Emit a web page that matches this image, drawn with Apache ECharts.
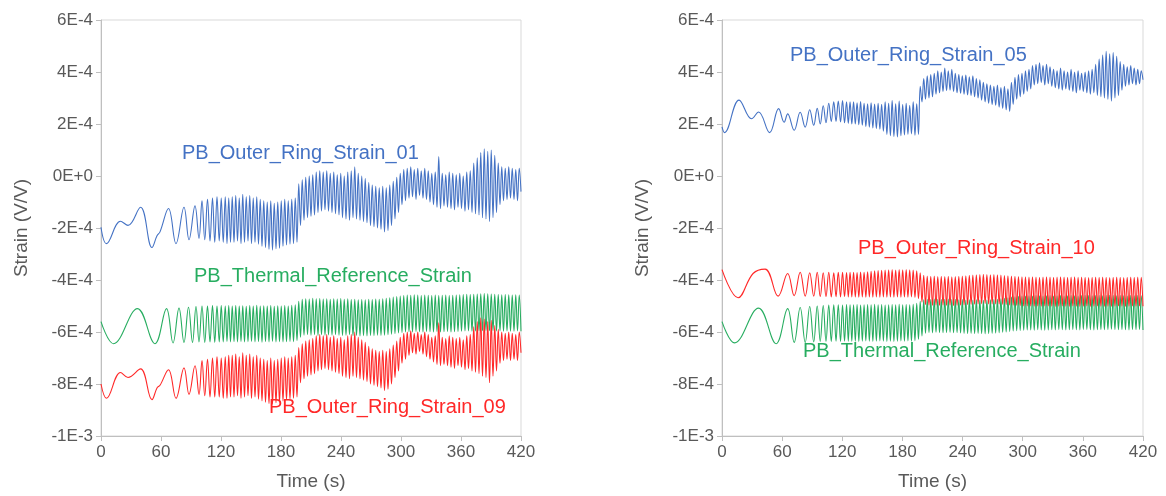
<!DOCTYPE html>
<html>
<head>
<meta charset="utf-8">
<script src="https://cdn.jsdelivr.net/npm/echarts@6/dist/echarts.min.js"></script>
<style>
  html, body { margin: 0; padding: 0; background: #ffffff; }
  #chart { width: 1166px; height: 496px; }
</style>
</head>
<body>
<div id="chart"></div>
<script>
// Strain values are given in units of 1E-4 V/V.
// Each trace = a lead-in section with its own time stamps (s)
// followed by a dense section sampled every DENSE_STEP seconds from DENSE_START.
const DENSE_START = 131.25;
const DENSE_STEP = 1.75;

const xTicks = [0, 60, 120, 180, 240, 300, 360, 420];
const yTicksE4 = [6, 4, 2, 0, -2, -4, -6, -8, -10];

// shared sweep timing (extrema of the excitation) for the thermal reference traces
const sweepTimes = [0, 12.5, 36.5, 54, 65.5, 72, 78, 83, 87.5, 91.5, 95, 98, 101, 103.75, 106.5, 109, 111.5, 113.75, 116, 118.25, 120.25, 122.25, 124.25, 126, 127.75, 129.5];

// ---------- left panel ----------
const ring01_09LeadT = [0, 5.5, 19.5, 27, 39.5, 51, 56, 59, 67.5, 75, 83, 88, 94, 98, 101, 103.75, 106.5, 109, 111.5, 113.75, 116, 118.25, 120.25, 122.25, 124.25, 126, 127.75, 129.5];

const ring01Lead = [-1.97, -2.6, -1.74, -1.9, -1.2, -2.75, -2.3, -2.15, -1.25, -2.6, -1.2, -2.45, -1.15, -2.4, -0.95, -2.45, -0.9, -2.5, -0.85, -2.55, -0.8, -2.5, -0.85, -2.55, -0.8, -2.6, -0.85, -2.55];
const ring01Dense = [
  -0.8, -2.55, -0.75, -2.5, -0.85, -2.6, -0.7, -2.55, -0.8, -2.5,
  -0.75, -2.6, -0.85, -2.55, -0.8, -2.62, -0.9, -2.7, -0.95, -2.75,
  -1.0, -2.82, -0.95, -2.85, -1.05, -2.8, -1.0, -2.78, -0.95, -2.7,
  -0.9, -2.65, -0.95, -2.62, -0.9, -2.6, -0.85, -2.55, -0.3, -1.9,
  -0.15, -1.7, -0.05, -1.6, 0.0, -1.55, 0.05, -1.5, 0.15, -1.4,
  0.2, -1.35, 0.15, -1.3, 0.2, -1.35, 0.1, -1.4, 0.15, -1.45,
  0.05, -1.5, 0.1, -1.6, 0.0, -1.65, 0.15, -1.7, 0.2, -1.6,
  0.35, -1.65, 0.1, -1.7, 0.0, -1.75, -0.1, -1.8, -0.25, -1.9,
  -0.35, -1.95, -0.4, -2.0, -0.45, -2.05, -0.4, -2.15, -0.45, -2.1,
  -0.35, -1.9, -0.2, -1.65, -0.05, -1.4, 0.1, -1.1, 0.25, -0.95,
  0.3, -0.85, 0.35, -0.8, 0.25, -0.9, 0.3, -0.75, 0.2, -0.85,
  0.3, -0.9, 0.2, -1.0, 0.1, -1.1, 0.15, -1.2, 0.75, -1.25,
  0.1, -1.15, 0.05, -1.2, 0.15, -1.25, 0.1, -1.3, 0.05, -1.2,
  0.1, -1.25, 0.0, -1.35, 0.15, -1.3, 0.2, -1.4, 0.5, -1.45,
  0.7, -1.5, 0.9, -1.6, 1.05, -1.65, 0.95, -1.75, 1.0, -1.6,
  0.8, -1.4, 0.5, -1.1, 0.35, -0.95, 0.3, -0.9, 0.35, -0.85,
  0.3, -0.9, 0.25, -0.95, 0.3, -0.6
];

const thermalLeftLead = [-5.6, -6.45, -5.1, -6.45, -5.1, -6.42, -5.08, -6.4, -5.05, -6.4, -5.02, -6.38, -5.0, -6.4, -5.0, -6.38, -4.98, -6.4, -5.0, -6.38, -4.98, -6.38, -5.0, -6.36, -4.98, -6.38];
const thermalLeftDense = [
  -5.0, -6.37, -4.98, -6.38, -5.0, -6.36, -4.99, -6.38, -5.01, -6.37,
  -4.98, -6.36, -5.0, -6.38, -4.97, -6.37, -5.0, -6.39, -4.99, -6.37,
  -5.0, -6.38, -4.98, -6.36, -5.01, -6.38, -4.99, -6.37, -5.0, -6.38,
  -4.98, -6.37, -5.0, -6.36, -4.97, -6.37, -4.95, -6.33, -4.82, -6.2,
  -4.74, -6.12, -4.72, -6.1, -4.73, -6.12, -4.7, -6.1, -4.72, -6.13,
  -4.71, -6.1, -4.73, -6.12, -4.72, -6.11, -4.74, -6.12, -4.72, -6.1,
  -4.73, -6.12, -4.71, -6.13, -4.74, -6.12, -4.72, -6.1, -4.75, -6.14,
  -4.74, -6.13, -4.76, -6.15, -4.75, -6.14, -4.76, -6.15, -4.74, -6.13,
  -4.75, -6.14, -4.73, -6.12, -4.74, -6.13, -4.72, -6.12, -4.7, -6.1,
  -4.68, -6.08, -4.66, -6.06, -4.64, -6.04, -4.62, -6.02, -4.6, -6.0,
  -4.58, -5.99, -4.59, -6.0, -4.57, -5.98, -4.58, -5.99, -4.6, -6.0,
  -4.58, -5.98, -4.59, -5.99, -4.6, -6.0, -4.58, -5.98, -4.6, -6.0,
  -4.59, -5.99, -4.58, -5.98, -4.6, -6.0, -4.59, -5.99, -4.58, -5.98,
  -4.57, -5.97, -4.56, -5.96, -4.55, -5.96, -4.56, -5.97, -4.55, -5.96,
  -4.54, -5.95, -4.53, -5.95, -4.52, -5.94, -4.53, -5.95, -4.54, -5.95,
  -4.55, -5.96, -4.56, -5.96, -4.57, -5.97, -4.56, -5.96, -4.57, -5.97,
  -4.58, -5.97, -4.57, -5.96, -4.58, -5.97
];

const ring09Lead = [-8.0, -8.55, -7.56, -7.75, -7.42, -8.6, -8.15, -8.05, -7.45, -8.55, -7.38, -8.4, -7.3, -8.4, -7.1, -8.45, -7.05, -8.5, -7.0, -8.5, -6.95, -8.5, -7.0, -8.55, -6.95, -8.55, -6.9, -8.5];
const ring09Dense = [
  -6.9, -8.5, -6.85, -8.45, -6.95, -8.55, -6.8, -8.5, -6.9, -8.45,
  -6.85, -8.55, -6.95, -8.5, -6.9, -8.58, -7.0, -8.65, -7.05, -8.7,
  -7.1, -8.75, -7.0, -8.78, -7.1, -8.72, -7.05, -8.7, -7.0, -8.65,
  -6.95, -8.6, -7.0, -8.58, -6.95, -8.55, -6.9, -8.5, -6.6, -7.95,
  -6.45, -7.8, -6.35, -7.7, -6.3, -7.65, -6.25, -7.6, -6.15, -7.5,
  -6.1, -7.45, -6.15, -7.4, -6.1, -7.45, -6.2, -7.5, -6.15, -7.55,
  -6.25, -7.6, -6.2, -7.7, -6.3, -7.75, -6.15, -7.8, -6.1, -7.7,
  -6.0, -7.75, -6.2, -7.8, -6.3, -7.85, -6.4, -7.9, -6.55, -8.0,
  -6.65, -8.05, -6.7, -8.1, -6.75, -8.15, -6.7, -8.25, -6.75, -8.2,
  -6.65, -8.0, -6.5, -7.75, -6.35, -7.5, -6.2, -7.2, -6.05, -7.05,
  -6.0, -6.9, -5.95, -6.8, -6.05, -6.85, -6.0, -6.75, -6.1, -6.85,
  -6.0, -6.95, -6.1, -7.05, -6.2, -7.15, -6.15, -7.25, -5.65, -7.3,
  -6.2, -7.25, -6.25, -7.3, -6.15, -7.35, -6.2, -7.4, -6.25, -7.3,
  -6.2, -7.35, -6.3, -7.45, -6.15, -7.4, -6.1, -7.5, -5.8, -7.55,
  -5.6, -7.6, -5.45, -7.7, -5.5, -7.75, -5.6, -7.95, -5.55, -7.7,
  -5.75, -7.5, -5.9, -7.2, -6.0, -7.1, -6.05, -7.05, -6.0, -7.1,
  -6.05, -7.05, -6.1, -7.1, -6.0, -6.8
];

// ---------- right panel ----------
const ring05LeadT = [0, 2.5, 17, 29.5, 36.5, 47.5, 56.5, 62, 65.5, 72, 78, 83, 87.5, 91.5, 95, 98, 101, 103.75, 106.5, 109, 111.5, 113.75, 116, 118.25, 120.25, 122.25, 124.25, 126, 127.75, 129.5];
const ring05Lead = [1.89, 1.67, 2.92, 2.2, 2.46, 1.67, 2.59, 2.07, 2.39, 1.76, 2.45, 1.88, 2.55, 1.95, 2.6, 2.0, 2.7, 2.05, 2.8, 2.1, 2.85, 2.1, 2.88, 2.08, 2.9, 2.05, 2.85, 2.02, 2.85, 2.0];
const ring05Dense = [
  2.85, 2.0, 2.82, 1.97, 2.86, 1.95, 2.8, 1.9, 2.78, 1.88,
  2.82, 1.85, 2.77, 1.82, 2.8, 1.8, 2.76, 1.72, 2.85, 1.6,
  2.8, 1.55, 2.9, 1.52, 2.78, 1.5, 2.88, 1.55, 2.75, 1.58,
  2.8, 1.6, 2.72, 1.62, 2.85, 1.57, 2.78, 1.6, 3.45, 2.85,
  3.75, 2.95, 3.85, 3.0, 3.9, 3.05, 3.95, 3.15, 4.05, 3.2,
  4.0, 3.25, 4.15, 3.28, 4.05, 3.3, 4.1, 3.25, 3.95, 3.2,
  3.9, 3.18, 3.85, 3.15, 3.88, 3.12, 3.82, 3.1, 3.85, 3.05,
  3.75, 3.0, 3.7, 2.92, 3.6, 2.85, 3.55, 2.8, 3.5, 2.75,
  3.45, 2.72, 3.5, 2.65, 3.4, 2.6, 3.45, 2.55, 3.35, 2.48,
  3.6, 2.75, 3.8, 2.95, 3.9, 3.05, 3.95, 3.15, 4.05, 3.25,
  4.1, 3.35, 4.25, 3.5, 4.3, 3.55, 4.35, 3.6, 4.25, 3.5,
  4.3, 3.55, 4.2, 3.45, 4.1, 3.4, 4.05, 3.35, 4.15, 3.3,
  4.05, 3.35, 4.0, 3.3, 4.1, 3.25, 4.0, 3.2, 4.05, 3.3,
  3.95, 3.25, 4.0, 3.2, 4.05, 3.15, 4.1, 3.2, 4.3, 3.1,
  4.5, 3.05, 4.65, 3.0, 4.8, 2.95, 4.7, 2.88, 4.75, 3.0,
  4.6, 3.1, 4.4, 3.3, 4.3, 3.45, 4.2, 3.5, 4.25, 3.55,
  4.15, 3.5, 4.1, 3.55, 4.05, 3.7
];

const ring10LeadT = [0, 16, 31, 43, 56, 65.5, 72, 78, 83, 87.5, 91.5, 95, 98, 101, 103.75, 106.5, 109, 111.5, 113.75, 116, 118.25, 120.25, 122.25, 124.25, 126, 127.75, 129.5];
const ring10Lead = [-3.6, -4.68, -3.75, -3.58, -4.62, -3.75, -4.6, -3.7, -4.62, -3.72, -4.62, -3.7, -4.64, -3.72, -4.64, -3.7, -4.65, -3.72, -4.64, -3.7, -4.65, -3.7, -4.64, -3.71, -4.65, -3.7, -4.65];
const ring10Dense = [
  -3.7, -4.65, -3.71, -4.66, -3.69, -4.65, -3.7, -4.66, -3.68, -4.65,
  -3.67, -4.66, -3.65, -4.65, -3.64, -4.66, -3.63, -4.65, -3.62, -4.66,
  -3.61, -4.65, -3.6, -4.66, -3.62, -4.65, -3.6, -4.66, -3.61, -4.65,
  -3.6, -4.66, -3.61, -4.65, -3.62, -4.67, -3.65, -4.72, -3.72, -4.85,
  -3.82, -4.95, -3.85, -4.97, -3.86, -4.98, -3.85, -4.97, -3.87, -4.98,
  -3.86, -4.97, -3.87, -4.98, -3.86, -4.97, -3.88, -4.99, -3.87, -4.98,
  -3.86, -4.97, -3.85, -4.96, -3.84, -4.95, -3.82, -4.94, -3.81, -4.93,
  -3.8, -4.92, -3.79, -4.92, -3.78, -4.91, -3.79, -4.92, -3.8, -4.92,
  -3.79, -4.92, -3.8, -4.93, -3.81, -4.94, -3.83, -4.95, -3.84, -4.96,
  -3.85, -4.97, -3.86, -4.98, -3.87, -4.99, -3.88, -5.0, -3.88, -5.0,
  -3.89, -5.0, -3.88, -5.01, -3.89, -5.0, -3.9, -5.01, -3.89, -5.0,
  -3.88, -5.0, -3.89, -5.01, -3.9, -5.02, -3.89, -5.01, -3.88, -5.0,
  -3.89, -5.01, -3.9, -5.02, -3.89, -5.0, -3.88, -5.01, -3.9, -5.02,
  -3.89, -5.01, -3.9, -5.0, -3.91, -5.02, -3.9, -5.01, -3.89, -5.0,
  -3.9, -5.01, -3.89, -5.02, -3.9, -5.01, -3.91, -5.02, -3.9, -5.01,
  -3.89, -5.0, -3.9, -5.01, -3.91, -5.02, -3.9, -5.01, -3.89, -5.0,
  -3.9, -5.01, -3.89, -5.0, -3.9, -5.01
];

const thermalRightLead = [-5.6, -6.42, -5.08, -6.45, -5.1, -6.4, -5.06, -6.4, -5.02, -6.38, -5.0, -6.36, -4.98, -6.36, -4.96, -6.36, -4.95, -6.35, -4.95, -6.36, -4.96, -6.35, -4.94, -6.35, -4.95, -6.35];
const thermalRightDense = [
  -4.95, -6.35, -4.94, -6.36, -4.96, -6.35, -4.95, -6.34, -4.94, -6.35,
  -4.95, -6.36, -4.93, -6.35, -4.95, -6.34, -4.94, -6.35, -4.96, -6.36,
  -4.95, -6.35, -4.94, -6.36, -4.95, -6.35, -4.93, -6.34, -4.95, -6.35,
  -4.94, -6.34, -4.95, -6.35, -4.93, -6.33, -4.9, -6.28, -4.82, -6.15,
  -4.76, -6.05, -4.74, -6.02, -4.75, -6.03, -4.73, -6.01, -4.74, -6.02,
  -4.75, -6.03, -4.74, -6.02, -4.73, -6.01, -4.75, -6.03, -4.74, -6.02,
  -4.76, -6.04, -4.75, -6.05, -4.77, -6.06, -4.76, -6.05, -4.77, -6.06,
  -4.76, -6.05, -4.77, -6.06, -4.78, -6.07, -4.77, -6.06, -4.76, -6.05,
  -4.75, -6.04, -4.74, -6.03, -4.72, -6.01, -4.7, -6.0, -4.68, -5.98,
  -4.66, -5.96, -4.65, -5.95, -4.63, -5.94, -4.62, -5.93, -4.62, -5.92,
  -4.61, -5.92, -4.62, -5.93, -4.6, -5.91, -4.61, -5.92, -4.62, -5.93,
  -4.61, -5.92, -4.6, -5.91, -4.62, -5.92, -4.61, -5.9, -4.6, -5.91,
  -4.62, -5.92, -4.61, -5.91, -4.6, -5.9, -4.61, -5.91, -4.62, -5.92,
  -4.6, -5.9, -4.59, -5.9, -4.6, -5.91, -4.61, -5.92, -4.6, -5.91,
  -4.6, -5.9, -4.61, -5.91, -4.6, -5.9, -4.59, -5.89, -4.6, -5.9,
  -4.61, -5.91, -4.6, -5.9, -4.61, -5.91, -4.62, -5.92, -4.6, -5.9,
  -4.61, -5.91, -4.6, -5.9, -4.61, -5.92
];

const COLORS = { blue: '#4472c4', green: '#27ad60', red: '#ff2828' };
const FONT = '"Liberation Sans", Arial, sans-serif';

function trace(leadT, leadV, dense) {
  const pts = leadT.map((t, i) => [t, leadV[i] * 1e-4]);
  dense.forEach((v, k) => pts.push([DENSE_START + k * DENSE_STEP, v * 1e-4]));
  return pts;
}

function lineSeries(name, idx, data, color) {
  return {
    name, type: 'line', xAxisIndex: idx, yAxisIndex: idx,
    data, showSymbol: false, symbol: 'none', smooth: 0.4,
    sampling: null, animation: false,
    lineStyle: { color, width: 1.1 },
    z: 3
  };
}

const tickFmt = v => Number(v).toExponential(0).toUpperCase();

function xAxisDef(gridIndex) {
  return {
    type: 'value', gridIndex, min: xTicks[0], max: xTicks[xTicks.length - 1],
    interval: xTicks[1] - xTicks[0],
    name: 'Time (s)', nameLocation: 'middle', nameGap: 36,
    nameTextStyle: { color: '#595959', fontSize: 19, fontFamily: FONT },
    axisLine: { onZero: false, lineStyle: { color: '#bfbfbf' } },
    axisTick: { show: true, length: 5, lineStyle: { color: '#bfbfbf' } },
    axisLabel: { color: '#595959', fontSize: 17, fontFamily: FONT, margin: 8 },
    splitLine: { show: false }
  };
}
function yAxisDef(gridIndex) {
  const step = (yTicksE4[0] - yTicksE4[1]) * 1e-4;
  return {
    type: 'value', gridIndex,
    min: yTicksE4[yTicksE4.length - 1] * 1e-4, max: yTicksE4[0] * 1e-4, interval: step,
    name: 'Strain (V/V)', nameLocation: 'middle', nameGap: 70, nameRotate: 90,
    nameTextStyle: { color: '#595959', fontSize: 19, fontFamily: FONT },
    axisLine: { show: true, onZero: false, lineStyle: { color: '#bfbfbf' } },
    axisTick: { show: true, length: 5, lineStyle: { color: '#bfbfbf' } },
    axisLabel: { color: '#595959', fontSize: 17, fontFamily: FONT, margin: 8, formatter: tickFmt },
    splitLine: { show: false }
  };
}

function label(text, left, top, color) {
  return { type: 'text', left, top, z: 10,
    style: { text, fill: color, font: '20px ' + FONT } };
}

const chart = echarts.init(document.getElementById('chart'), null, { renderer: 'canvas' });
chart.setOption({
  backgroundColor: '#ffffff',
  animation: false,
  grid: [
    { left: 101, top: 20, width: 420, height: 416, show: true, borderColor: '#d9d9d9', borderWidth: 1, backgroundColor: 'transparent' },
    { left: 722, top: 20, width: 421, height: 416, show: true, borderColor: '#d9d9d9', borderWidth: 1, backgroundColor: 'transparent' }
  ],
  xAxis: [xAxisDef(0), xAxisDef(1)],
  yAxis: [yAxisDef(0), yAxisDef(1)],
  series: [
    lineSeries('PB_Outer_Ring_Strain_01', 0, trace(ring01_09LeadT, ring01Lead, ring01Dense), COLORS.blue),
    lineSeries('PB_Thermal_Reference_Strain', 0, trace(sweepTimes, thermalLeftLead, thermalLeftDense), COLORS.green),
    lineSeries('PB_Outer_Ring_Strain_09', 0, trace(ring01_09LeadT, ring09Lead, ring09Dense), COLORS.red),
    lineSeries('PB_Outer_Ring_Strain_05', 1, trace(ring05LeadT, ring05Lead, ring05Dense), COLORS.blue),
    lineSeries('PB_Thermal_Reference_Strain', 1, trace(sweepTimes, thermalRightLead, thermalRightDense), COLORS.green),
    lineSeries('PB_Outer_Ring_Strain_10', 1, trace(ring10LeadT, ring10Lead, ring10Dense), COLORS.red)
  ],
  graphic: [
    label('PB_Outer_Ring_Strain_01', 182, 143, COLORS.blue),
    label('PB_Thermal_Reference_Strain', 194, 266, COLORS.green),
    label('PB_Outer_Ring_Strain_09', 269, 397, COLORS.red),
    label('PB_Outer_Ring_Strain_05', 790, 45, COLORS.blue),
    label('PB_Outer_Ring_Strain_10', 858, 238, COLORS.red),
    label('PB_Thermal_Reference_Strain', 803, 341, COLORS.green)
  ]
});
</script>
</body>
</html>
